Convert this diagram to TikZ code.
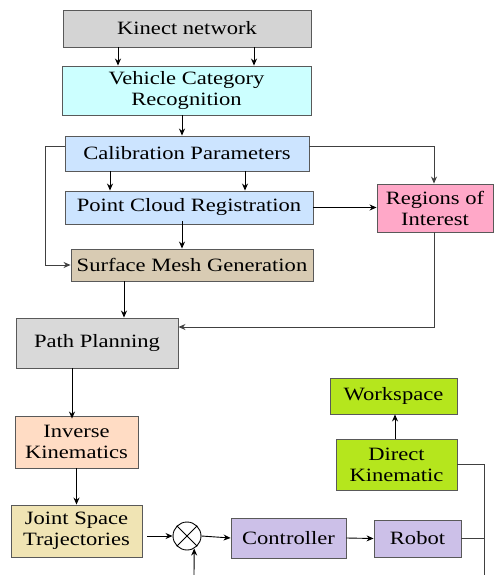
\documentclass[tikz,border=0pt]{standalone}
\usepackage{fontspec}
\setmainfont[FakeStretch=1.2]{Liberation Serif}
\usetikzlibrary{arrows.meta}
\definecolor{cKin}{HTML}{D4D4D4}
\definecolor{cVcr}{HTML}{CCFFFF}
\definecolor{cCal}{HTML}{CCE4FF}
\definecolor{cRoi}{HTML}{FFA8C8}
\definecolor{cSmg}{HTML}{D8CBB3}
\definecolor{cPp}{HTML}{D9D9D9}
\definecolor{cIk}{HTML}{FFDCC4}
\definecolor{cJst}{HTML}{F0E4B4}
\definecolor{cCtl}{HTML}{CCC0E8}
\definecolor{cGrn}{HTML}{B5E61D}
\tikzset{
  box/.style={draw=black!65, line width=0.9pt, rectangle, align=center, inner sep=0pt,
    font=\fontsize{18.8}{21}\selectfont},
  arr/.style={-{Stealth[length=7pt,width=6pt]}, line width=0.9pt},
  ln/.style={line width=0.8pt, draw=black!75},
}
\begin{document}
\begin{tikzpicture}[x=1pt,y=-1pt]
\useasboundingbox (0,0) rectangle (494,575);
\node[box, fill=cKin, minimum width=248, minimum height=37] (kin) at (187,28.5) {Kinect network};
\node[box, fill=cVcr, minimum width=249, minimum height=49] (vcr) at (186.5,90.5) {Vehicle Category\\Recognition};
\node[box, fill=cCal, minimum width=244, minimum height=35] (cal) at (187,153.5) {Calibration Parameters};
\node[box, fill=cCal, minimum width=248, minimum height=33] (pcr) at (189,207.5) {Point Cloud Registration};
\node[box, fill=cRoi, minimum width=116, minimum height=48] (roi) at (435,208) {Regions of\\Interest};
\node[box, fill=cSmg, minimum width=242, minimum height=32] (smg) at (192,265) {Surface Mesh Generation};
\node[box, fill=cPp, minimum width=162, minimum height=50] (pp) at (97,343) {Path Planning};
\node[box, fill=cIk, minimum width=123, minimum height=52] (ik) at (76.5,442) {Inverse\\Kinematics};
\node[box, fill=cJst, minimum width=131, minimum height=52] (jst) at (76.5,531) {Joint Space\\Trajectories};
\node[draw, line width=0.9pt, circle, minimum size=28, inner sep=0pt] (sum) at (187,536) {};
\draw[line width=0.9pt] (sum.north east) -- (sum.south west) (sum.north west) -- (sum.south east);
\node[box, fill=cCtl, minimum width=115, minimum height=40] (ctl) at (288.5,538) {Controller};
\node[box, fill=cCtl, minimum width=87, minimum height=37] (rob) at (417.5,538.5) {Robot};
\node[box, fill=cGrn, minimum width=121, minimum height=51] (dk) at (396.5,464.5) {Direct\\Kinematic};
\node[box, fill=cGrn, minimum width=127, minimum height=36] (ws) at (393.5,396) {Workspace};

\coordinate (k1) at (118,0);
\coordinate (k2) at (254,0);
\coordinate (v1) at (182,0);
\coordinate (c1) at (110,0);
\coordinate (c2) at (245,0);
\coordinate (cy) at (0,146);
\coordinate (lx) at (45,0);
\coordinate (rx) at (434,0);
\coordinate (s1) at (124,0);
\coordinate (py) at (0,327);
\coordinate (p1) at (72,0);
\coordinate (dx) at (395,0);
\coordinate (fb) at (484,0);
\coordinate (fbot) at (484,575);
\coordinate (sbot) at (194,575);
\coordinate (jx) at (147,0);

\draw[arr] (kin.south -| k1) -- (vcr.north -| k1);
\draw[arr] (kin.south -| k2) -- (vcr.north -| k2);
\draw[arr] (vcr.south -| v1) -- (cal.north -| v1);
\draw[ln, arr] (cal.west |- cy) -| (lx |- smg.west) -- (smg.west);
\draw[ln, arr] (cal.east |- cy) -| (roi.north -| rx);
\draw[arr] (cal.south -| c1) -- (pcr.north -| c1);
\draw[arr] (cal.south -| c2) -- (pcr.north -| c2);
\draw[arr] (pcr.east) -- (roi.west |- pcr.east);
\draw[arr] ([yshift=3]pcr.south -| v1) -- (smg.north -| v1);
\draw[arr] (smg.south -| s1) -- (pp.north -| s1);
\draw[ln, arr] (roi.south -| rx) |- (pp.east |- py);
\draw[arr] (pp.south -| p1) -- ([yshift=-3]ik.north -| p1);
\draw[arr] (ik.south) -- (jst.north);
\draw[arr] (jx |- sum.west) -- (sum.west);
\draw[arr] (sum.east) -- (ctl.west);
\draw[arr] (ctl.east) -- (rob.west);
\draw[ln] (rob.east) -- (fb |- rob.east);
\draw[ln] (dk.east) -| (fbot);
\draw[arr] (sbot) -- (sum.-60);
\draw[arr] (dk.north -| dx) -- (ws.south -| dx);
\end{tikzpicture}
\end{document}
